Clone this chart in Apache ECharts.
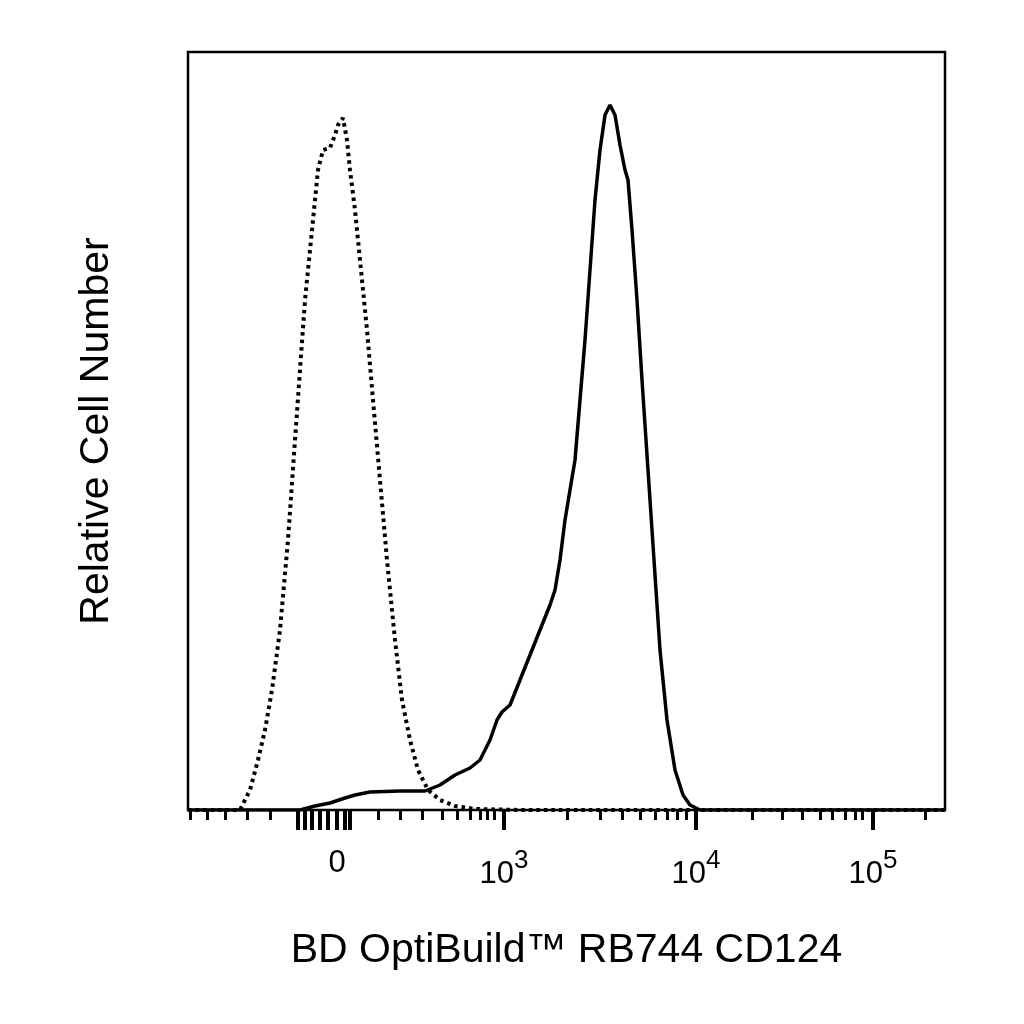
<!DOCTYPE html>
<html><head><meta charset="utf-8">
<script src="https://cdn.jsdelivr.net/npm/echarts@6/dist/echarts.min.js"></script>
<style>html,body{margin:0;background:#fff}#c{width:1024px;height:1024px}</style>
</head><body><div id="c"></div>
<script>
// x in display channel units (0..757), y in relative counts (0..758)
const controlData=[[0,0],[52,0],[62,20],[70,50],[77,80],[84,120],[92,180],[100,270],[107,370],[112,440],[117,510],[124,580],[130,640],[135,660],[142,662],[147,675],[150,685],[155,692],[159,670],[162,640],[167,600],[172,550],[179,480],[185,410],[192,330],[199,250],[207,170],[214,110],[222,70],[230,40],[240,20],[252,10],[267,4],[287,1],[332,0],[757,0]];
const stainedData=[[0,0],[112,0],[127,4],[142,7],[157,12],[167,15],[182,18],[212,19],[237,19],[252,25],[267,35],[282,42],[292,50],[302,70],[309,90],[314,98],[322,105],[332,130],[342,155],[352,180],[362,205],[367,220],[372,250],[377,290],[382,320],[387,350],[392,410],[397,470],[402,540],[407,610],[412,660],[417,695],[422,705],[427,695],[432,665],[437,640],[440,630],[444,580],[449,510],[454,430],[460,340],[466,250],[472,160],[479,90],[487,40],[495,15],[502,5],[512,0],[757,0]];
const majorTicks=[316,508,685];
const clusterTicks=[110,117,124,132,140,149,157,162];
const minorTicks=[2,19,37,59,82,190,212,234,254,269,282,292,299,306,379,412,434,452,467,479,489,498,564,594,614,632,644,657,667,674,737];
const labelPos=[149,316,508,685];
const labelText=['0','10{s|3}','10{s|4}','10{s|5}'];
const chart=echarts.init(document.getElementById('c'));
const base={type:'value',min:0,max:757,position:'bottom',splitLine:{show:false},axisLine:{show:false}};
const lab={fontFamily:'Liberation Sans',fontSize:31,color:'#000',margin:38,
  rich:{s:{fontSize:26,verticalAlign:'top',padding:[0,0,26,0],color:'#000',fontFamily:'Liberation Sans'}}};
chart.setOption({
  animation:false,
  grid:{left:188,right:79,top:52,bottom:214,show:true,borderColor:'#000',borderWidth:2.5,backgroundColor:'transparent'},
  xAxis:[
    Object.assign({},base,{axisTick:{show:true,length:10,lineStyle:{width:3,color:'#000'},customValues:minorTicks},axisLabel:{show:false}}),
    Object.assign({},base,{axisTick:{show:true,length:20,lineStyle:{width:4,color:'#000'},customValues:majorTicks.concat(clusterTicks)},
      axisLabel:Object.assign({show:true,customValues:labelPos,formatter:v=>labelText[labelPos.indexOf(v)]},lab)}),
    Object.assign({},base,{axisTick:{show:false},axisLabel:{show:false},name:'BD OptiBuild™ RB744 CD124',nameLocation:'middle',nameGap:120,
      nameTextStyle:{fontFamily:'Liberation Sans',fontSize:41,color:'#000'}})
  ],
  yAxis:{type:'value',min:0,max:758,axisLine:{show:false},axisTick:{show:false},axisLabel:{show:false},splitLine:{show:false},
    name:'Relative Cell Number',nameLocation:'middle',nameGap:71,nameTextStyle:{fontFamily:'Liberation Sans',fontSize:41,color:'#000'}},
  series:[
    {type:'line',data:controlData,symbol:'none',lineStyle:{color:'#000',width:4,type:[3.5,4]}},
    {type:'line',data:stainedData,symbol:'none',lineStyle:{color:'#000',width:3.5}}
  ]
});
</script></body></html>
